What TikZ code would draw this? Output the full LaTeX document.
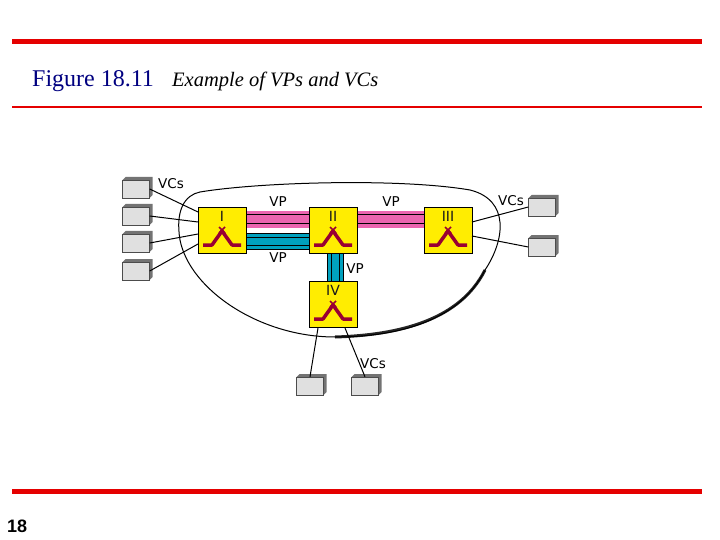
\documentclass[tikz,border=0pt]{standalone}
\usepackage{fontspec}
\setmainfont{Liberation Serif}
\newfontfamily\sansf{Liberation Sans}
\newfontfamily\vcf{DejaVu Sans}
\definecolor{teal2}{RGB}{0,160,190}
\definecolor{pink2}{RGB}{235,100,175}
\begin{document}
\begin{tikzpicture}[x=1pt,y=-1pt,
 sw/.style={draw=black,fill=yellow!95!orange,minimum width=48pt,minimum height=46pt,inner sep=0pt},
 lab/.style={font=\vcf\fontsize{13.5}{13.5}\selectfont,inner sep=0pt},
 term/.style={draw=black!70,fill=black!12,minimum width=27pt,minimum height=18pt,inner sep=0pt},
 wire/.style={black,line width=1pt}]
\useasboundingbox (0,0) rectangle (720,540);
\fill[red!90!black] (12,39.5) rectangle (702,44.5);
\fill[red!90!black] (12,106) rectangle (702,108.5);
\fill[red!90!black] (12,489) rectangle (702,494);
\node[anchor=base west,inner sep=0pt,text=blue!50!black,font=\fontsize{24}{24}\selectfont] (fig) at (32,87) {Figure 18.11};
\node[anchor=base west,inner sep=0pt,font=\itshape\fontsize{20.5}{20.5}\selectfont] (ttl) at (172,87) {Example of VPs and VCs};
\node[anchor=base west,inner sep=0pt,font=\sansf\bfseries\fontsize{18}{18}\selectfont] (pg) at (7,532) {18};
% cloud
\draw[black!85,line width=3pt] (485,270) .. controls (460,320) and (400,335) .. (335,337);
\draw[black,line width=1pt] (200,192) .. controls (260,182) and (400,178) .. (470,190)
 .. controls (510,200) and (505,240) .. (485,270)
 .. controls (460,320) and (400,337) .. (335,337)
 .. controls (260,337) and (190,290) .. (180,240)
 .. controls (175,210) and (185,195) .. (200,192) -- cycle;
% VP pipes
\fill[pink2] (247,211) rectangle (424,228);
\draw[black,line width=1pt] (247,215) -- (424,215);
\draw[black,line width=1pt] (247,224) -- (424,224);
\fill[teal2] (247,233) rectangle (310,249);
\draw[black,line width=1pt] (247,233) -- (310,233) (247,237) -- (310,237) (247,245) -- (310,245) (247,249) -- (310,249);
\fill[teal2] (327,253) rectangle (343,281);
\draw[black,line width=1pt] (327,253) -- (327,281) (331,253) -- (331,281) (339,253) -- (339,281) (343,253) -- (343,281);
% switches
\foreach \n/\x/\y/\t in {s1/222/230/I, s2/333/230/II, s3/448/230/III, s4/333/304/IV}{
 \node[sw] (\n) at (\x,\y) {};
 \node[font=\vcf\fontsize{14}{14}\selectfont,inner sep=0pt,text=black!90] (\n t) at (\x,\y-14) {\t};
 \draw[purple!80!black,line width=3.5pt,line join=round] (\x-19,\y+15) -- (\x-10,\y+15) -- (\x,\y+1) -- (\x+10,\y+15) -- (\x+19,\y+15);
 \draw[purple!80!black,line width=1.5pt] (\x-3,\y-3) -- (\x+3,\y+3) (\x+3,\y-3) -- (\x-3,\y+3);
}
% terminals
\foreach \n/\x/\y in {t1/136/189, t2/136/216, t3/136/243, t4/136/271, t5/542/207, t6/542/247, t7/310/386, t8/365/386}{
 \fill[black!55] (\x-13.5,\y-9) -- (\x-10.5,\y-12) -- (\x+16.5,\y-12) -- (\x+16.5,\y+6) -- (\x+13.5,\y+9) -- (\x+13.5,\y-9) -- cycle;
 \node[term] (\n) at (\x,\y) {};
}
\coordinate (a1) at (198,212); \coordinate (a2) at (198,222); \coordinate (a3) at (198,234); \coordinate (a4) at (198,244);
\coordinate (b1) at (472,222); \coordinate (b2) at (472,236);
\coordinate (c1) at (318,328); \coordinate (c2) at (345,328);
\draw[wire] (t1.east) -- (a1); \draw[wire] (t2.east) -- (a2); \draw[wire] (t3.east) -- (a3); \draw[wire] (t4.east) -- (a4);
\draw[wire] (b1) -- (t5.west); \draw[wire] (b2) -- (t6.west);
\draw[wire] (c1) -- (t7.north); \draw[wire] (c2) -- (t8.north);
% labels
\node[lab] (l1) at (171,184) {VCs};
\node[lab] (l2) at (511,201) {VCs};
\node[lab] (l3) at (373,364) {VCs};
\node[lab] (l4) at (278,202) {VP};
\node[lab] (l5) at (391,202) {VP};
\node[lab] (l6) at (278,258) {VP};
\node[lab] (l7) at (355,269) {VP};
\end{tikzpicture}
\end{document}
